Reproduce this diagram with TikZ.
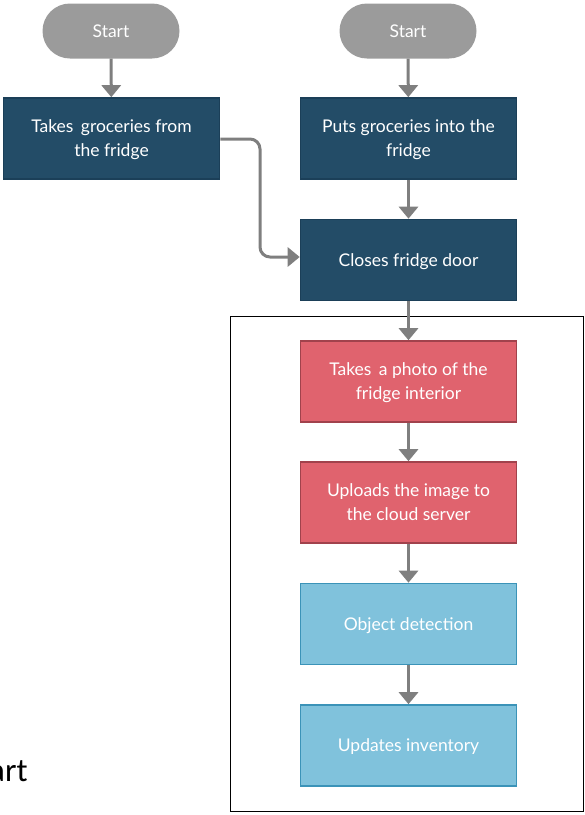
\documentclass[tikz,border=0pt]{standalone}
\usepackage{fontspec}
\setmainfont{Lato}
\newfontfamily\chartfont{Carlito}
\usepackage{tikz}
\usetikzlibrary{positioning}
\usetikzlibrary{arrows.meta}
\usetikzlibrary{shapes}

\definecolor{startgray}{HTML}{9B9B9B}
\definecolor{stepblue}{HTML}{234C67}
\definecolor{stepblueline}{HTML}{1B3F58}
\definecolor{stepred}{HTML}{E0636E}
\definecolor{stepredline}{HTML}{A1424C}
\definecolor{steplight}{HTML}{80C2DC}
\definecolor{steplightline}{HTML}{3B93B8}
\definecolor{flowgray}{HTML}{7F7F7F}

\begin{document}
\begin{tikzpicture}[x=1pt, y=-1pt,
		startnode/.style={rounded rectangle, fill=startgray, text=white, minimum width=137pt, minimum height=55pt, inner sep=0pt, font=\fontsize{17.5}{24}\selectfont},
		stepnode/.style={rectangle, line width=1.6pt, text=white, minimum width=216pt, minimum height=81pt, inner sep=0pt, text depth=0pt, align=center, font=\fontsize{17.5}{24}\selectfont},
		flow/.style={line width=3pt, draw=flowgray, -{Triangle[width=19pt,length=12pt]}}]
				\useasboundingbox (0,0) rectangle (585,815);
				\node[startnode] (0) at (111,31) {Start};
				\node[startnode] (1) at (408,31) {Start};
				\node[stepnode, fill=stepblue, draw=stepblueline] (2) at (111.5,138.5) {Takes\,\ groceries from\\the fridge};
				\node[stepnode, fill=stepblue, draw=stepblueline] (3) at (408.5,138.5) {Puts groceries into the\\fridge};
				\node[stepnode, fill=stepblue, draw=stepblueline] (4) at (408.5,260) {Closes fridge door};
				\node[stepnode, fill=stepred, draw=stepredline] (5) at (408.5,381.5) {Takes\,\ a photo of the\\fridge interior};
				\node[stepnode, fill=stepred, draw=stepredline] (6) at (408.5,502.5) {Uploads the image to\\the cloud server};
				\node[stepnode, fill=steplight, draw=steplightline] (7) at (408.5,624) {Object detection};
				\node[stepnode, fill=steplight, draw=steplightline] (8) at (408.5,745.5) {Updates inventory};
				\node[anchor=base west, inner sep=0pt, font=\chartfont\fontsize{33}{33}\selectfont] (9) at (-11,781) {art};
				\coordinate (bend) at (260,139);
				
				\draw[line width=1.5pt] (230.5,316.5) rectangle (583.5,811.5);
				\draw[flow]  (0) -- (2);
				\draw[flow]  (1) -- (3);
				\draw[flow]  (3) -- (4);
				\draw[flow, rounded corners=10pt]  (2.east |- bend) -- (bend) |- ([yshift=3pt]4.west);
				\draw[flow]  (4) -- (5);
				\draw[flow]  (5) -- (6);
				\draw[flow]  (6) -- (7);
				\draw[flow]  (7) -- (8);
			\end{tikzpicture}
\end{document}
